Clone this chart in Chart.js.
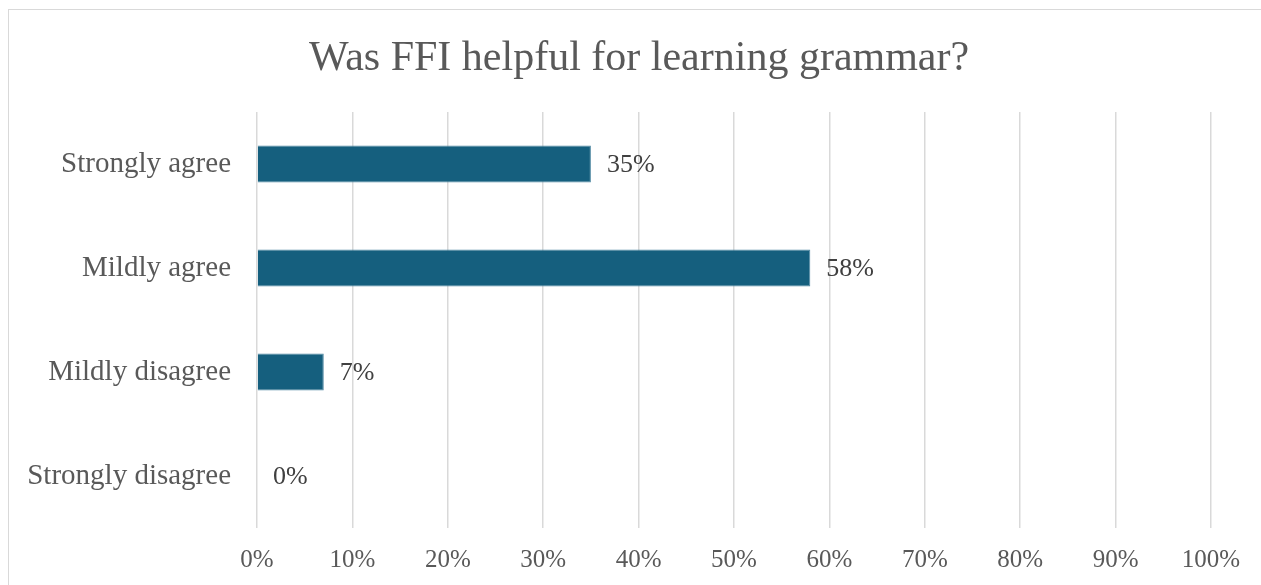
<!DOCTYPE html>
<html>
<head>
<meta charset="utf-8">
<script src="https://cdn.jsdelivr.net/npm/chart.js@4.4.1/dist/chart.umd.min.js"></script>
<style>
  html, body { margin: 0; padding: 0; background: #fff; overflow: hidden; }
  .frame {
    position: absolute; left: 8px; top: 9px; width: 1300px; height: 620px;
    border: 1.5px solid #d9d9d9; box-sizing: border-box;
  }
  #chartBox { position: absolute; left: 0; top: 0; width: 1261px; height: 585px; }
</style>
</head>
<body>
<div class="frame"></div>
<div id="chartBox"><canvas id="ffiChart" width="1261" height="585"></canvas></div>
<script>
// Survey answers and shares
const answers = ['Strongly agree', 'Mildly agree', 'Mildly disagree', 'Strongly disagree'];
const shares = [0.35, 0.58, 0.07, 0.00];
const xTicks = [0, 0.1, 0.2, 0.3, 0.4, 0.5, 0.6, 0.7, 0.8, 0.9, 1.0];
const chartTitle = 'Was FFI helpful for learning grammar?';

const serif = '"Liberation Serif", "Times New Roman", serif';

// Title centred on the whole frame, not just the plot area
const frameTitle = {
  id: 'frameTitle',
  afterDraw(chart) {
    const ctx = chart.ctx;
    ctx.save();
    ctx.font = '42px ' + serif;
    ctx.fillStyle = '#595959';
    ctx.textAlign = 'center';
    ctx.textBaseline = 'alphabetic';
    ctx.fillText(chartTitle, 639, 70);
    ctx.restore();
  }
};

// Writes the percentage just past the end of each bar
const barValueLabels = {
  id: 'barValueLabels',
  afterDatasetsDraw(chart) {
    const ctx = chart.ctx;
    const meta = chart.getDatasetMeta(0);
    ctx.save();
    ctx.font = '26px ' + serif;
    ctx.fillStyle = '#404040';
    ctx.textAlign = 'left';
    ctx.textBaseline = 'middle';
    meta.data.forEach((bar, i) => {
      const text = Math.round(shares[i] * 100) + '%';
      ctx.fillText(text, bar.x + 16, bar.y + 1);
    });
    ctx.restore();
  }
};

const ctx = document.getElementById('ffiChart').getContext('2d');
const ffiChart = new Chart(ctx, {
  type: 'bar',
  data: {
    labels: answers,
    datasets: [{
      data: shares,
      backgroundColor: '#155F7E',
      borderColor: '#4f88a2',
      borderWidth: 1,
      borderSkipped: 'start',
      categoryPercentage: 1,
      barPercentage: 0.355
    }]
  },
  options: {
    indexAxis: 'y',
    responsive: false,
    animation: false,
    layout: { padding: { left: 0, right: 50, top: 112, bottom: 0 } },
    plugins: {
      legend: { display: false },
      tooltip: { enabled: false },
      title: { display: false }
    },
    scales: {
      x: {
        min: 0,
        max: 1,
        afterBuildTicks(axis) {
          axis.ticks = xTicks.map(v => ({ value: v }));
        },
        afterFit(axis) { axis.height = 57; },
        border: { display: false },
        grid: { color: '#d9d9d9', lineWidth: 1.5, drawTicks: false },
        ticks: {
          padding: 17,
          color: '#595959',
          font: { family: serif, size: 25 },
          callback: v => Math.round(v * 100) + '%'
        }
      },
      y: {
        afterFit(axis) { axis.width = 257; },
        border: { display: false },
        grid: { display: false, drawTicks: false },
        ticks: {
          padding: 26,
          color: '#595959',
          font: { family: serif, size: 29 }
        }
      }
    }
  },
  plugins: [barValueLabels, frameTitle]
});
</script>
</body>
</html>
